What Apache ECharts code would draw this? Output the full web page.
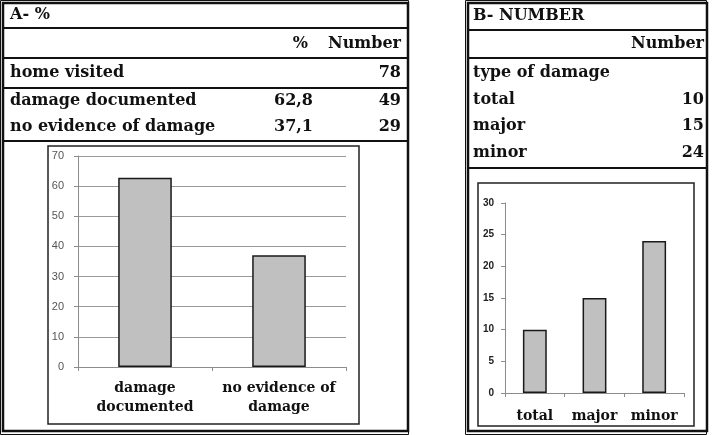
<!DOCTYPE html>
<html>
<head>
<meta charset="utf-8">
<script src="https://cdn.jsdelivr.net/npm/echarts@6/dist/echarts.min.js"></script>
<style>
  html, body { margin: 0; padding: 0; background: #fff; }
  #chart { width: 716px; height: 435px; }
</style>
</head>
<body>
<div id="chart"></div>
<script>
// panel A table
const tableATitle = 'A- %'
const tableAHead = ['%', 'Number']
const tableARows = ['home visited', 'damage documented', 'no evidence of damage']
const tableAPct = [null, 62.8, 37.1]
const tableANum = [78, 49, 29]
// panel A chart
const chartACategories = ['damage\ndocumented', 'no evidence of\ndamage']
const chartAValues = [62.8, 37.1]
const chartATicks = [0, 10, 20, 30, 40, 50, 60, 70]

// panel B table
const tableBTitle = 'B- NUMBER'
const tableBHead = ['Number']
const tableBSub = 'type of damage'
const tableBRows = ['total', 'major', 'minor']
const tableBNum = [10, 15, 24]
// panel B chart
const chartBCategories = ['total', 'major', 'minor']
const chartBValues = [10, 15, 24]
const chartBTicks = [0, 5, 10, 15, 20, 25, 30]

const serif = '"DejaVu Serif", serif'
const tFont = 'bold 16px ' + serif

function txt(text, x, y, align) {
  return {
    type: 'text',
    style: {
      text: String(text), x: x, y: y, font: tFont, fill: '#111',
      align: align || 'left', textAlign: align || 'left',
      verticalAlign: 'middle', textVerticalAlign: 'middle'
    }
  }
}
function hline(x1, x2, y, w) {
  return { type: 'line', shape: { x1: x1, y1: y, x2: x2, y2: y }, style: { stroke: '#111', lineWidth: w || 2 } }
}
function box(x, y, w, h, lw, color) {
  return { type: 'rect', shape: { x: x, y: y, width: w, height: h }, style: { fill: 'none', stroke: color || '#111', lineWidth: lw } }
}
const fmt = (v) => String(v).replace('.', ',')

const graphics = []
// panel A frame
graphics.push(box(0.5, 0.5, 408, 434, 1))
graphics.push(box(3, 3, 405, 428, 2.5))
;[28, 58, 88, 141].forEach((y) => graphics.push(hline(3, 408, y, 2)))
graphics.push(box(48, 146, 311, 278, 1.5, '#222'))
graphics.push(txt(tableATitle, 10, 15))
graphics.push(txt(tableAHead[0], 308, 44, 'right'))
graphics.push(txt(tableAHead[1], 401, 44, 'right'))
const rowYA = [73, 101, 127]
tableARows.forEach((name, i) => {
  graphics.push(txt(name, 10, rowYA[i]))
  if (tableAPct[i] !== null) graphics.push(txt(fmt(tableAPct[i]), 313, rowYA[i], 'right'))
  graphics.push(txt(tableANum[i], 401, rowYA[i], 'right'))
})

// panel B frame
graphics.push(box(465.5, 0.5, 241, 434, 1))
graphics.push(box(468, 3, 239, 428, 2.5))
;[30, 58, 168].forEach((y) => graphics.push(hline(468, 707, y, 2)))
graphics.push(box(478, 183, 216, 243, 1.5, '#222'))
graphics.push(txt(tableBTitle, 473, 16))
graphics.push(txt(tableBHead[0], 704, 44, 'right'))
graphics.push(txt(tableBSub, 473, 73))
const rowYB = [100, 126, 153]
tableBRows.forEach((name, i) => {
  graphics.push(txt(name, 473, rowYB[i]))
  graphics.push(txt(tableBNum[i], 704, rowYB[i], 'right'))
})

const axisGray = '#8c8c8c'
const barStyle = { color: '#c0c0c0', borderColor: '#1a1a1a', borderWidth: 1.5 }

const chart = echarts.init(document.getElementById('chart'), null, { renderer: 'canvas' })
chart.setOption({
  animation: false,
  backgroundColor: '#fff',
  graphic: graphics,
  grid: [
    { left: 78, right: 370, top: 156, bottom: 68 },
    { left: 505, right: 32, top: 203, bottom: 42 }
  ],
  xAxis: [
    {
      gridIndex: 0, type: 'category', data: chartACategories,
      axisLine: { lineStyle: { color: axisGray } },
      axisTick: { show: true, length: 4, interval: 0, lineStyle: { color: axisGray } },
      axisLabel: { interval: 0, margin: 12, fontFamily: serif, fontWeight: 'bold', fontSize: 14, lineHeight: 19, color: '#111' }
    },
    {
      gridIndex: 1, type: 'category', data: chartBCategories,
      axisLine: { lineStyle: { color: axisGray } },
      axisTick: { show: true, length: 4, interval: 0, lineStyle: { color: axisGray } },
      axisLabel: { interval: 0, margin: 16, fontFamily: serif, fontWeight: 'bold', fontSize: 14, color: '#111' }
    }
  ],
  yAxis: [
    {
      gridIndex: 0, type: 'value', min: chartATicks[0], max: chartATicks[chartATicks.length - 1], interval: 10,
      axisLine: { show: true, lineStyle: { color: axisGray } },
      axisTick: { show: true, length: 4, lineStyle: { color: axisGray } },
      splitLine: { show: true, lineStyle: { color: '#9a9a9a', width: 1 } },
      axisLabel: { margin: 14, fontFamily: '"Liberation Sans", sans-serif', fontSize: 11, color: '#555' }
    },
    {
      gridIndex: 1, type: 'value', min: chartBTicks[0], max: chartBTicks[chartBTicks.length - 1], interval: 5,
      axisLine: { show: true, lineStyle: { color: axisGray } },
      axisTick: { show: true, length: 4, lineStyle: { color: axisGray } },
      splitLine: { show: false },
      axisLabel: { margin: 11, fontFamily: '"Liberation Sans", sans-serif', fontWeight: 'bold', fontSize: 10, color: '#222' }
    }
  ],
  series: [
    { type: 'bar', xAxisIndex: 0, yAxisIndex: 0, data: chartAValues, barWidth: '40%', itemStyle: barStyle },
    { type: 'bar', xAxisIndex: 1, yAxisIndex: 1, data: chartBValues, barWidth: '40%', itemStyle: barStyle }
  ]
})
</script>
</body>
</html>
